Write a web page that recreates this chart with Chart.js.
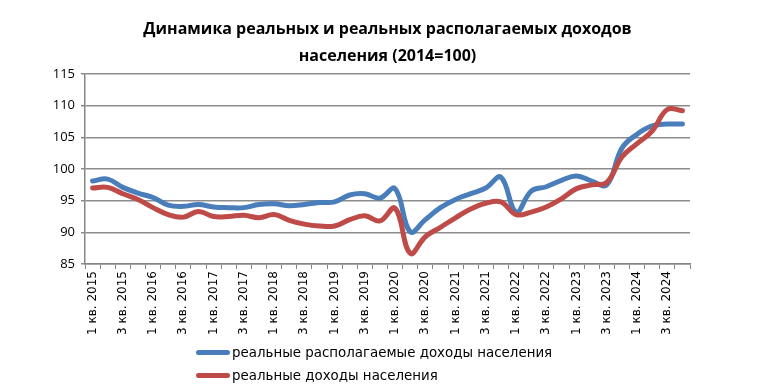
<!DOCTYPE html>
<html>
<head>
<meta charset="utf-8">
<script src="https://cdn.jsdelivr.net/npm/chart.js@4.4.1/dist/chart.umd.min.js"></script>
<style>
  html, body { margin: 0; padding: 0; background: #fff; }
  #wrap { position: relative; width: 757px; height: 390px; }
  #legend { position: absolute; left: 196px; top: 341px; font: 13.4px 'DejaVu Sans', sans-serif; color: #000; }
  .item { display: flex; align-items: center; height: 23px; }
  .swatch { width: 34px; height: 5px; border-radius: 3px; margin-right: 2px; }
</style>
</head>
<body>
<div id="wrap">
  <canvas id="chart" width="757" height="390"></canvas>
  <div id="legend"></div>
</div>
<script>
// quarters 2015-2024
const quarters = [
  '1 кв. 2015', '2 кв. 2015', '3 кв. 2015', '4 кв. 2015',
  '1 кв. 2016', '2 кв. 2016', '3 кв. 2016', '4 кв. 2016',
  '1 кв. 2017', '2 кв. 2017', '3 кв. 2017', '4 кв. 2017',
  '1 кв. 2018', '2 кв. 2018', '3 кв. 2018', '4 кв. 2018',
  '1 кв. 2019', '2 кв. 2019', '3 кв. 2019', '4 кв. 2019',
  '1 кв. 2020', '2 кв. 2020', '3 кв. 2020', '4 кв. 2020',
  '1 кв. 2021', '2 кв. 2021', '3 кв. 2021', '4 кв. 2021',
  '1 кв. 2022', '2 кв. 2022', '3 кв. 2022', '4 кв. 2022',
  '1 кв. 2023', '2 кв. 2023', '3 кв. 2023', '4 кв. 2023',
  '1 кв. 2024', '2 кв. 2024', '3 кв. 2024', '4 кв. 2024'
];

const disposableIncome = [
  98.1, 98.4, 97.1, 96.2,
  95.5, 94.3, 94.1, 94.4,
  94.0, 93.9, 93.9, 94.4,
  94.5, 94.2, 94.4, 94.7,
  94.8, 95.9, 96.1, 95.4,
  96.9, 90.1, 92.0, 93.9,
  95.2, 96.1, 97.0, 98.7,
  93.2, 96.5, 97.2, 98.2,
  98.9, 98.1, 97.5, 103.3,
  105.5, 106.8, 107.1, 107.1
];

const realIncome = [
  97.0, 97.1, 96.1, 95.2,
  93.9, 92.8, 92.4, 93.3,
  92.5, 92.5, 92.7, 92.3,
  92.8, 91.9, 91.3, 91.0,
  91.0, 92.0, 92.6, 91.8,
  93.8, 86.7, 89.3, 90.8,
  92.3, 93.7, 94.6, 94.8,
  92.8, 93.2, 94.0, 95.3,
  96.9, 97.5, 97.9, 101.9,
  104.0, 106.0, 109.4, 109.2
];

const seriesNames = ['реальные располагаемые доходы населения', 'реальные доходы населения'];
const seriesColors = ['#4a7ebb', '#be4b48'];
const titleLines = ['Динамика реальных и реальных располагаемых доходов', 'населения (2014=100)'];
const yTicks = { min: 85, max: 115, step: 5 };

const axisColor = '#868686';

const ctx = document.getElementById('chart').getContext('2d');
const chart = new Chart(ctx, {
  type: 'line',
  data: {
    labels: quarters,
    datasets: [
      {
        label: seriesNames[0],
        data: disposableIncome,
        borderColor: seriesColors[0],
        backgroundColor: seriesColors[0],
        borderWidth: 5,
        pointRadius: 0,
        tension: 0.4,
        borderCapStyle: 'round',
        borderJoinStyle: 'round',
        order: 1
      },
      {
        label: seriesNames[1],
        data: realIncome,
        borderColor: seriesColors[1],
        backgroundColor: seriesColors[1],
        borderWidth: 5,
        pointRadius: 0,
        tension: 0.4,
        borderCapStyle: 'round',
        borderJoinStyle: 'round',
        order: 0
      }
    ]
  },
  options: {
    responsive: false,
    animation: false,
    layout: { padding: { left: 0, right: 67, top: 0, bottom: 0 } },
    plugins: {
      legend: { display: false },
      tooltip: { enabled: false },
      title: {
        display: true,
        text: titleLines,
        fullSize: false,
        color: '#000',
        font: { family: "'Open Sans', sans-serif", size: 16, weight: 'bold', lineHeight: 1.7 },
        padding: { top: 16, bottom: 3.6 }
      }
    },
    scales: {
      x: {
        offset: true,
        grid: { drawOnChartArea: false, offset: true, tickLength: 5, color: axisColor, lineWidth: 1 },
        border: { color: axisColor, width: 1.5 },
        ticks: {
          autoSkip: false,
          maxRotation: 90,
          minRotation: 90,
          padding: 2,
          color: '#000',
          font: { family: "'DejaVu Sans', sans-serif", size: 12 },
          callback: (v, i) => (i % 2 === 0 ? quarters[i] : '')
        },
        afterFit: scale => { scale.height = 126; }
      },
      y: {
        min: yTicks.min,
        max: yTicks.max,
        grid: { color: '#8c8c8c', lineWidth: 1.5, tickLength: 4 },
        border: { color: axisColor, width: 1.5 },
        ticks: {
          stepSize: yTicks.step,
          padding: 6,
          color: '#000',
          font: { family: "'Open Sans', sans-serif", size: 13 }
        },
        afterFit: scale => { scale.width = 85; }
      }
    }
  }
});

// legend stacked below the axis, like the original
const legendEl = document.getElementById('legend');
seriesNames.forEach((name, i) => {
  const row = document.createElement('div');
  row.className = 'item';
  const sw = document.createElement('span');
  sw.className = 'swatch';
  sw.style.background = seriesColors[i];
  const txt = document.createElement('span');
  txt.textContent = name;
  row.appendChild(sw);
  row.appendChild(txt);
  legendEl.appendChild(row);
});
</script>
</body>
</html>
